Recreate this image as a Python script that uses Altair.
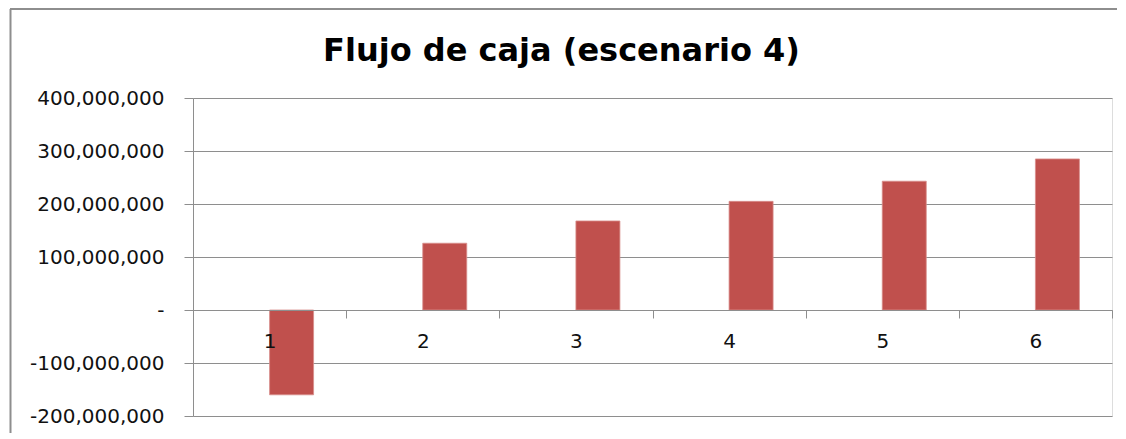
import altair as alt
import pandas as pd

# Data
periodos = [1, 2, 3, 4, 5, 6]
flujo = [-160_000_000, 126_000_000, 168_000_000, 205_000_000, 243_000_000, 285_000_000]
y_ticks = [-200_000_000, -100_000_000, 0, 100_000_000, 200_000_000, 300_000_000, 400_000_000]
titulo = "Flujo de caja (escenario 4)"

df = pd.DataFrame({"periodo": periodos, "flujo": flujo})

W, H = 919, 318
FONT = "DejaVu Sans"
GRAY = "#8e8e8e"

label_expr = ("datum.value == 0 ? '-\u2002' : "
              "(datum.value < 0 ? '-' : '') + format(abs(datum.value), ',')")

bars = alt.Chart(df).mark_bar(
    size=44, xOffset=22, color="#C0504D", stroke="#d88e8c", strokeWidth=0.8
).encode(
    x=alt.X(
        "periodo:O",
        scale=alt.Scale(paddingInner=0, paddingOuter=0),
        axis=alt.Axis(
            title=None, labelAngle=0, offset=-106, tickBand="extent",
            tickSize=8, labelPadding=13, grid=False, zindex=1,
            domainColor=GRAY, tickColor=GRAY, labelColor="#111111",
            labelFont=FONT, labelFontSize=20,
        ),
    ),
    y=alt.Y(
        "flujo:Q",
        scale=alt.Scale(domain=[y_ticks[0], y_ticks[-1]], nice=False, zero=False),
        axis=alt.Axis(
            title=None, values=y_ticks, labelExpr=label_expr,
            tickSize=9, labelPadding=20, grid=True, gridColor=GRAY,
            domainColor=GRAY, tickColor=GRAY, labelColor="#111111",
            labelFont=FONT, labelFontSize=20,
        ),
    ),
)

frame_df = pd.DataFrame({"k": [0]})
frame_left = alt.Chart(frame_df).mark_rule(color=GRAY, strokeWidth=2).encode(
    x=alt.value(-182.5), y=alt.value(-89), y2=alt.value(345)
)
frame_top = alt.Chart(frame_df).mark_rule(color=GRAY, strokeWidth=2).encode(
    x=alt.value(-183), x2=alt.value(924), y=alt.value(-89)
)

chart = alt.layer(frame_left, frame_top, bars).properties(
    width=W,
    height=H,
    title=alt.TitleParams(
        titulo, font=FONT, fontSize=32, fontWeight="bold", color="#000000",
        anchor="middle", frame="group", dx=-91, offset=-85, baseline="alphabetic",
    ),
    autosize=alt.AutoSizeParams(type="none"),
    padding={"left": 185, "top": 90, "right": 6, "bottom": 17},
).configure_view(stroke=None).configure(background="white")

chart.save("out.html", embed_options={"renderer": "svg", "actions": False})
